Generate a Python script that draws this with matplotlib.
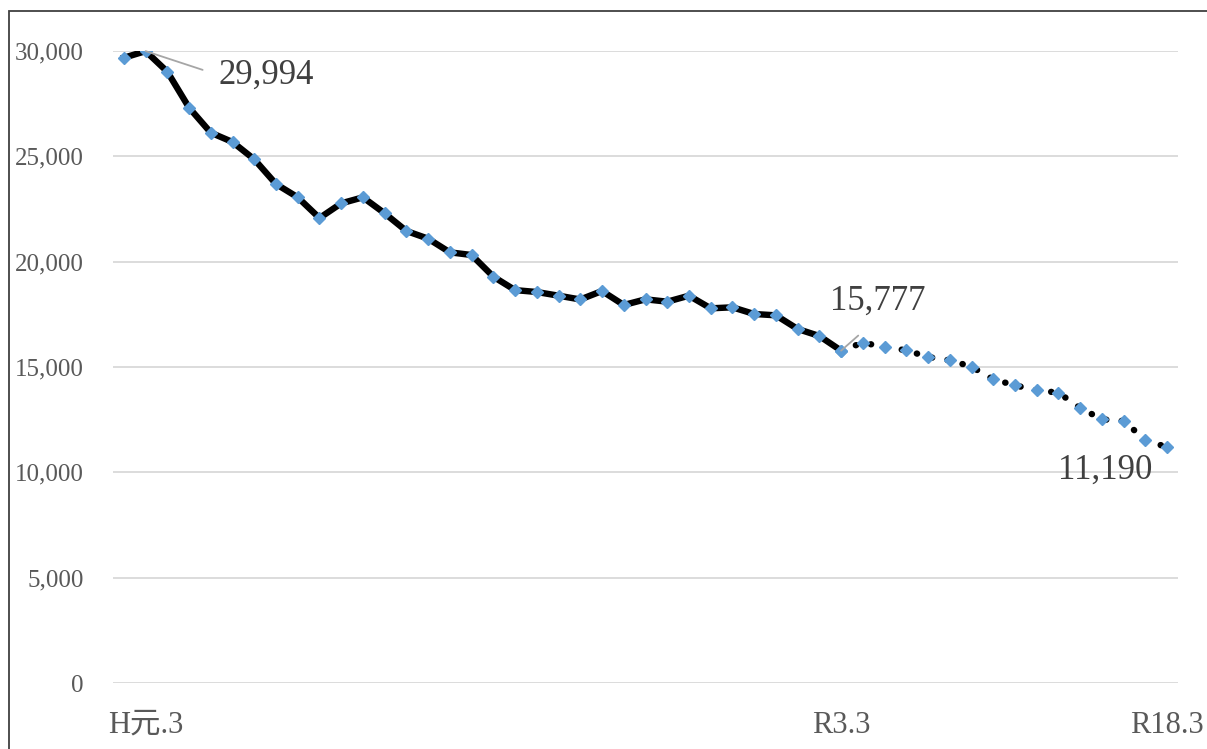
'''
Population trend with projection (line chart, actual + forecast).
'''

import matplotlib
matplotlib.use('Agg')
import matplotlib.pyplot as plt
from matplotlib.patches import Rectangle
import numpy as np

# values, S63.3 .. R18.3
actual = [29680, 29994, 29017, 27310, 26122, 25680, 24858, 23686, 23054, 22070,
          22769, 23054, 22294, 21456, 21091, 20443, 20316, 19288, 18650, 18560,
          18385, 18205, 18607, 17943, 18212, 18101, 18385, 17785, 17833, 17516,
          17453, 16804, 16471, 15777]
forecast = [15777, 16155, 15949, 15791, 15475, 15317, 15015, 14414, 14130, 13893,
            13782, 13054, 12516, 12437, 11535, 11190]
tick_idx = [1, 33, 48]
tick_labels = ['H元.3', 'R3.3', 'R18.3']
yticks = [0, 5000, 10000, 15000, 20000, 25000, 30000]

grey = '#595959'
blue = '#5B9BD5'
serif = 'Liberation Serif'

x_act = np.arange(len(actual))
x_fc = np.arange(len(actual) - 1, len(actual) - 1 + len(forecast))

fig = plt.figure(figsize=(12.07, 7.49), dpi=100)
ax = fig.add_axes([113/1207, 1 - 683/749, (1178 - 113)/1207, (683 - 51)/749])

ax.plot(x_act, actual, color='black', lw=4.6, solid_joinstyle='round',
        marker='D', ms=6.3, mfc=blue, mec=blue, zorder=3)
ax.plot(x_fc, forecast, color='black', lw=4.6, linestyle=(0, (0.05, 2.4)),
        dash_capstyle='round', marker='D', ms=6.3, mfc=blue, mec=blue, zorder=3)

ax.set_xlim(-0.5, len(actual) + len(forecast) - 1.5)
ax.set_ylim(0, 30000)
ax.set_yticks(yticks)
ax.set_yticklabels(['{:,}'.format(v) for v in yticks], fontsize=18,
                   color=grey, family=serif)
ax.set_xticks(tick_idx)
ax.set_xticklabels(tick_labels, fontsize=22, color=grey,
                   family=[serif, 'Noto Sans CJK JP'])
ax.tick_params(axis='both', length=0)
ax.tick_params(axis='y', pad=21)
ax.tick_params(axis='x', pad=20)
ax.grid(axis='y', color='#D9D9D9', lw=1.3)
ax.set_axisbelow(True)
for s in ax.spines.values():
    s.set_visible(False)

# data labels
ax.annotate('{:,}'.format(actual[1]), xy=(1, actual[1]), xytext=(73, -24),
            textcoords='offset pixels', ha='left', va='center', fontsize=25,
            color='#404040', family=serif,
            arrowprops=dict(arrowstyle='-', color='#A6A6A6', lw=1.3,
                            shrinkA=10, shrinkB=0, relpos=(0, 0.5)))
ax.annotate('{:,}'.format(forecast[0]), xy=(x_fc[0], forecast[0]), xytext=(37, 49),
            textcoords='offset pixels', ha='center', va='center', fontsize=25,
            color='#404040', family=serif,
            arrowprops=dict(arrowstyle='-', color='#A6A6A6', lw=1.3,
                            shrinkA=16, shrinkB=0, relpos=(0.5, 0)))
ax.annotate('{:,}'.format(forecast[-1]), xy=(x_fc[-1], forecast[-1]), xytext=(-62, -23),
            textcoords='offset pixels', ha='center', va='center', fontsize=25,
            color='#404040', family=serif)

# chart frame
fig.add_artist(Rectangle((9/1207, -0.1), 1.2, 1 - 11/749 + 0.1,
                         transform=fig.transFigure, fill=False,
                         edgecolor='#404040', lw=1.3))

fig.savefig('out.png', dpi=100)
